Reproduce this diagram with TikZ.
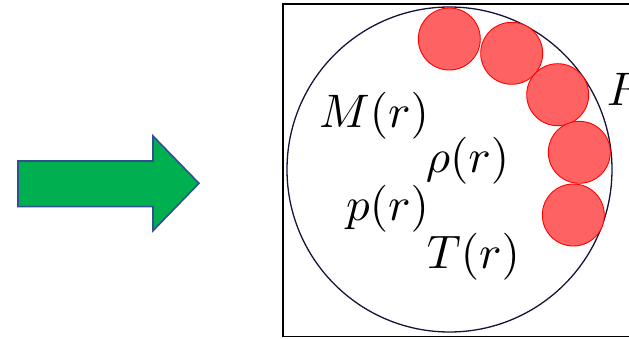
\documentclass[tikz,border=0pt]{standalone}
\begin{document}
\begin{tikzpicture}[x=1pt,y=-1pt,
  ball/.style={circle,draw=red,line width=0.9pt,fill={rgb,255:red,255;green,98;blue,98},minimum size=62pt,inner sep=0pt},
  lab/.style={inner sep=0pt,font=\normalsize,scale=4.7}]
\useasboundingbox (0,0) rectangle (629,339);
\clip (0,0) rectangle (629,339);
% green arrow
\draw[line width=1.6pt,draw={rgb,255:red,47;green,82;blue,143},fill={rgb,255:red,0;green,176;blue,80},line join=miter]
  (18,161) -- (153,161) -- (153,136) -- (199,183.3) -- (153,230.7) -- (153,206.7) -- (18,206.7) -- cycle;
% frame
\draw[line width=1.5pt] (283,4) rectangle (640,336.5);
% star
\draw[line width=1.3pt,draw={rgb,255:red,20;green,20;blue,60}] (449.5,169.5) circle (162.5);
% bubbles
\node[ball] (b1) at (449.3,39) {};
\node[ball] (b2) at (511.7,53.3) {};
\node[ball] (b3) at (557.7,94.7) {};
\node[ball] (b4) at (579.3,152.3) {};
\node[ball] (b5) at (573.3,215) {};
% labels
\node[lab] (M) at (374,115.8) {$M(r)$};
\node[lab] (rho) at (467.5,160.8) {$\rho(r)$};
\node[lab] (p) at (387.5,209) {$p(r)$};
\node[lab] (T) at (473.3,256.7) {$T(r)$};
\node[lab,anchor=base west] (R) at (606,106) {$R$};
\end{tikzpicture}
\end{document}
